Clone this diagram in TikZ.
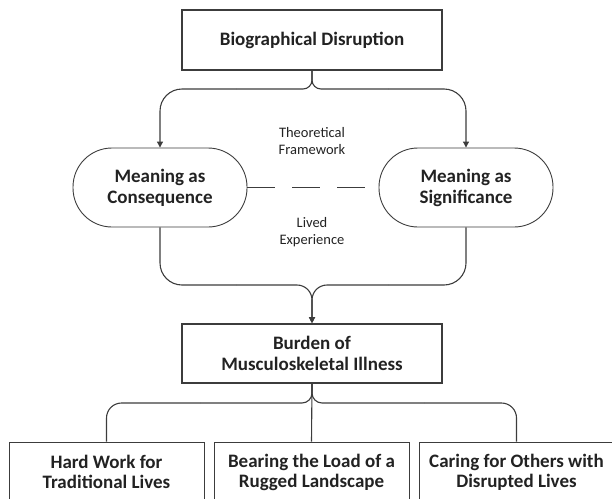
\documentclass[tikz,border=0pt]{standalone}
\usepackage{fontspec}
\setmainfont{Carlito}
\usetikzlibrary{arrows.meta}
\definecolor{ln}{HTML}{3C3C3C}
\definecolor{tx}{HTML}{222222}
\tikzset{
  thickbox/.style={draw=ln, line width=1.6pt, minimum width=260pt, inner sep=0pt, align=center, font=\bfseries\fontsize{19}{21}\selectfont, text=tx},
  leafbox/.style={draw=ln, line width=0.8pt, minimum width=195pt, minimum height=60pt, inner sep=0pt, align=center, font=\bfseries\fontsize{19}{20}\selectfont, text=tx},
  stadium/.style={draw=ln, line width=0.9pt, rounded corners=39pt, minimum width=174pt, minimum height=79pt, inner sep=0pt, align=center, font=\bfseries\fontsize{19}{21}\selectfont, text=tx},
  conn/.style={draw=ln, line width=1.1pt},
  tip/.style={-{Triangle[length=6pt,width=6pt]}},
  lbl/.style={font=\fontsize{14.5}{16.5}\selectfont, text=tx, align=center}
}
\begin{document}
\begin{tikzpicture}[x=1pt,y=-1pt]
\useasboundingbox (0,0) rectangle (612,498);
\clip (0,0) rectangle (612,498);
\node[thickbox, minimum height=60pt] (bio) at (312,40) {Biographical Disruption};
\node[stadium] (cons) at (160,187.5) {Meaning as\\Consequence};
\node[stadium] (sig) at (466,187.5) {Meaning as\\Significance};
\node[thickbox, minimum height=59pt] (burden) at (312,353.5) {Burden of\\Musculoskeletal Illness};
\node[leafbox] (hard) at (106.5,472) {Hard Work for\\Traditional Lives};
\node[leafbox] (bear) at (311.5,472) {Bearing the Load of a\\Rugged Landscape};
\node[leafbox] (care) at (516.5,472) {Caring for Others with\\Disrupted Lives};
\node[lbl] (theo) at (312,141) {Theoretical\\Framework};
\node[lbl] (lived) at (312,232) {Lived\\Experience};
% top brace
\coordinate (tl) at (236,89);
\coordinate (tr) at (388,89);
\draw[conn, rounded corners=9pt] (bio.south) |- (tl);
\draw[conn, rounded corners=9pt] (bio.south) |- (tr);
\draw[conn, tip, rounded corners=22pt] (tl) -| (cons.north);
\draw[conn, tip, rounded corners=22pt] (tr) -| (sig.north);
% dashed link
\draw[conn, dash pattern=on 28pt off 17pt] (cons.east) -- (sig.west);
% lower brace
\coordinate (bl) at (236,285);
\coordinate (br) at (388,285);
\draw[conn, rounded corners=22pt] (cons.south) |- (bl);
\draw[conn, rounded corners=22pt] (sig.south) |- (br);
\draw[conn, tip, rounded corners=15pt] (bl) -| (burden.north);
\draw[conn, tip, rounded corners=15pt] (br) -| (burden.north);
% bottom brace
\coordinate (ml) at (200,403);
\coordinate (mr) at (424,403);
\draw[conn] (burden.south) -- (bear.north);
\draw[conn, rounded corners=10pt] (burden.south) |- (ml);
\draw[conn, rounded corners=10pt] (burden.south) |- (mr);
\draw[conn, rounded corners=15pt] (ml) -| (hard.north);
\draw[conn, rounded corners=15pt] (mr) -| (care.north);
\end{tikzpicture}
\end{document}
